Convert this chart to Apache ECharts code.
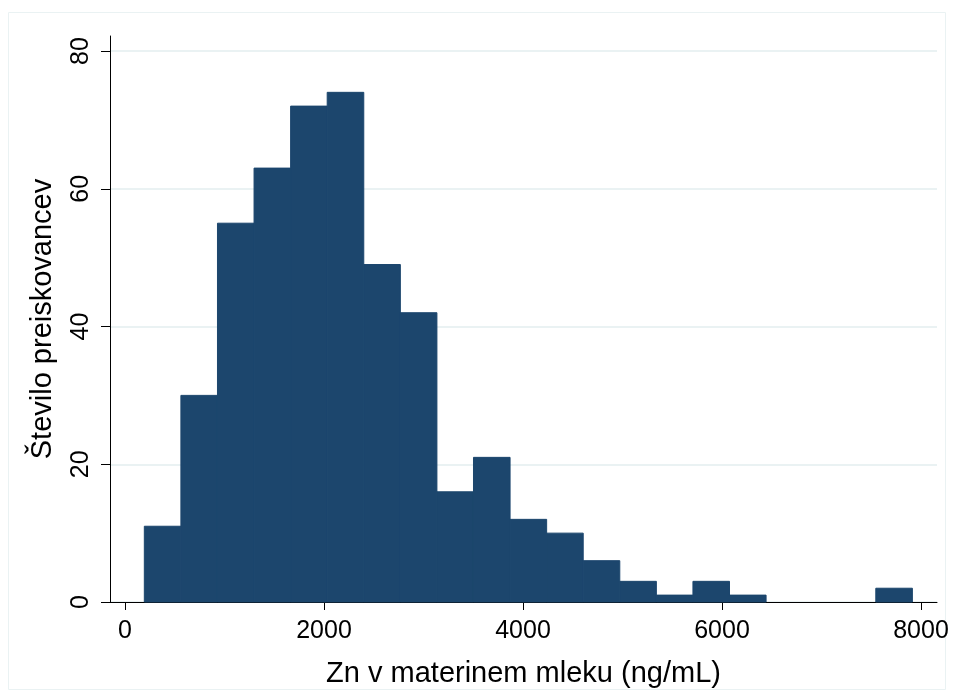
<!DOCTYPE html>
<html><head><meta charset="utf-8">
<script src="https://cdn.jsdelivr.net/npm/echarts@6/dist/echarts.min.js"></script>
<style>html,body{margin:0;padding:0;background:#fff}#c{width:954px;height:698px}</style>
</head><body><div id="c"></div>
<script>
// Histogram data
var binStart = 194;
var binWidth = 367.6;
var counts = [11, 30, 55, 63, 72, 74, 49, 42, 16, 21, 12, 10, 6, 3, 1, 3, 1, 0, 0, 0, 2];
var xTicks = [0, 2000, 4000, 6000, 8000];
var yTicks = [0, 20, 40, 60, 80];
var xTitle = 'Zn v materinem mleku (ng/mL)';
var yTitle = 'Število preiskovancev';

var bins = counts.map(function (c, i) {
  return [binStart + i * binWidth, binStart + (i + 1) * binWidth, c];
});

var chart = echarts.init(document.getElementById('c'), null, {renderer: 'canvas'});
var font = 'Liberation Sans, Arial, Helvetica, sans-serif';
chart.setOption({
  backgroundColor: '#ffffff',
  animation: false,
  graphic: [{
    type: 'rect', shape: {x: 8.5, y: 12.5, width: 937, height: 677},
    style: {fill: 'none', stroke: '#eaf2f3', lineWidth: 1}, silent: true, z: -1
  }],
  grid: {left: 110, right: 17, top: 36, bottom: 96},
  xAxis: {
    type: 'value', min: -151, max: 8161,
    name: xTitle, nameLocation: 'middle', nameGap: 57,
    nameTextStyle: {fontFamily: font, fontSize: 29, color: '#000'},
    axisLine: {show: true, onZero: false, lineStyle: {color: '#000', width: 1}},
    axisTick: {show: true, length: 8, customValues: xTicks, lineStyle: {color: '#000'}},
    axisLabel: {customValues: xTicks, fontFamily: font, fontSize: 25, color: '#000', margin: 17,
      formatter: function (v) { return String(v); }},
    splitLine: {show: false}
  },
  yAxis: {
    type: 'value', min: 0, max: 82.18,
    name: yTitle, nameLocation: 'middle', nameGap: 53, nameRotate: 90,
    nameTextStyle: {fontFamily: font, fontSize: 29, color: '#000'},
    axisLine: {show: true, onZero: false, lineStyle: {color: '#000', width: 1}},
    axisTick: {show: true, length: 9, customValues: yTicks, lineStyle: {color: '#000'}},
    axisLabel: {customValues: yTicks, rotate: 90, fontFamily: font, fontSize: 25, color: '#000', margin: 16,
      formatter: function (v) { return String(v); }},
    splitLine: {show: true, lineStyle: {color: '#eaf2f3', width: 2}}
  },
  series: [{
    type: 'custom',
    data: bins,
    encode: {x: [0, 1], y: 2},
    renderItem: function (params, api) {
      if (!api.value(2)) { return null; }
      var p0 = api.coord([api.value(0), api.value(2)]);
      var p1 = api.coord([api.value(1), 0]);
      return {
        type: 'rect',
        shape: {x: p0[0], y: p0[1], width: p1[0] - p0[0], height: p1[1] - p0[1]},
        style: {fill: '#1c466d', stroke: '#1c466d', lineWidth: 1}
      };
    },
    z: 2
  }]
});
</script></body></html>
